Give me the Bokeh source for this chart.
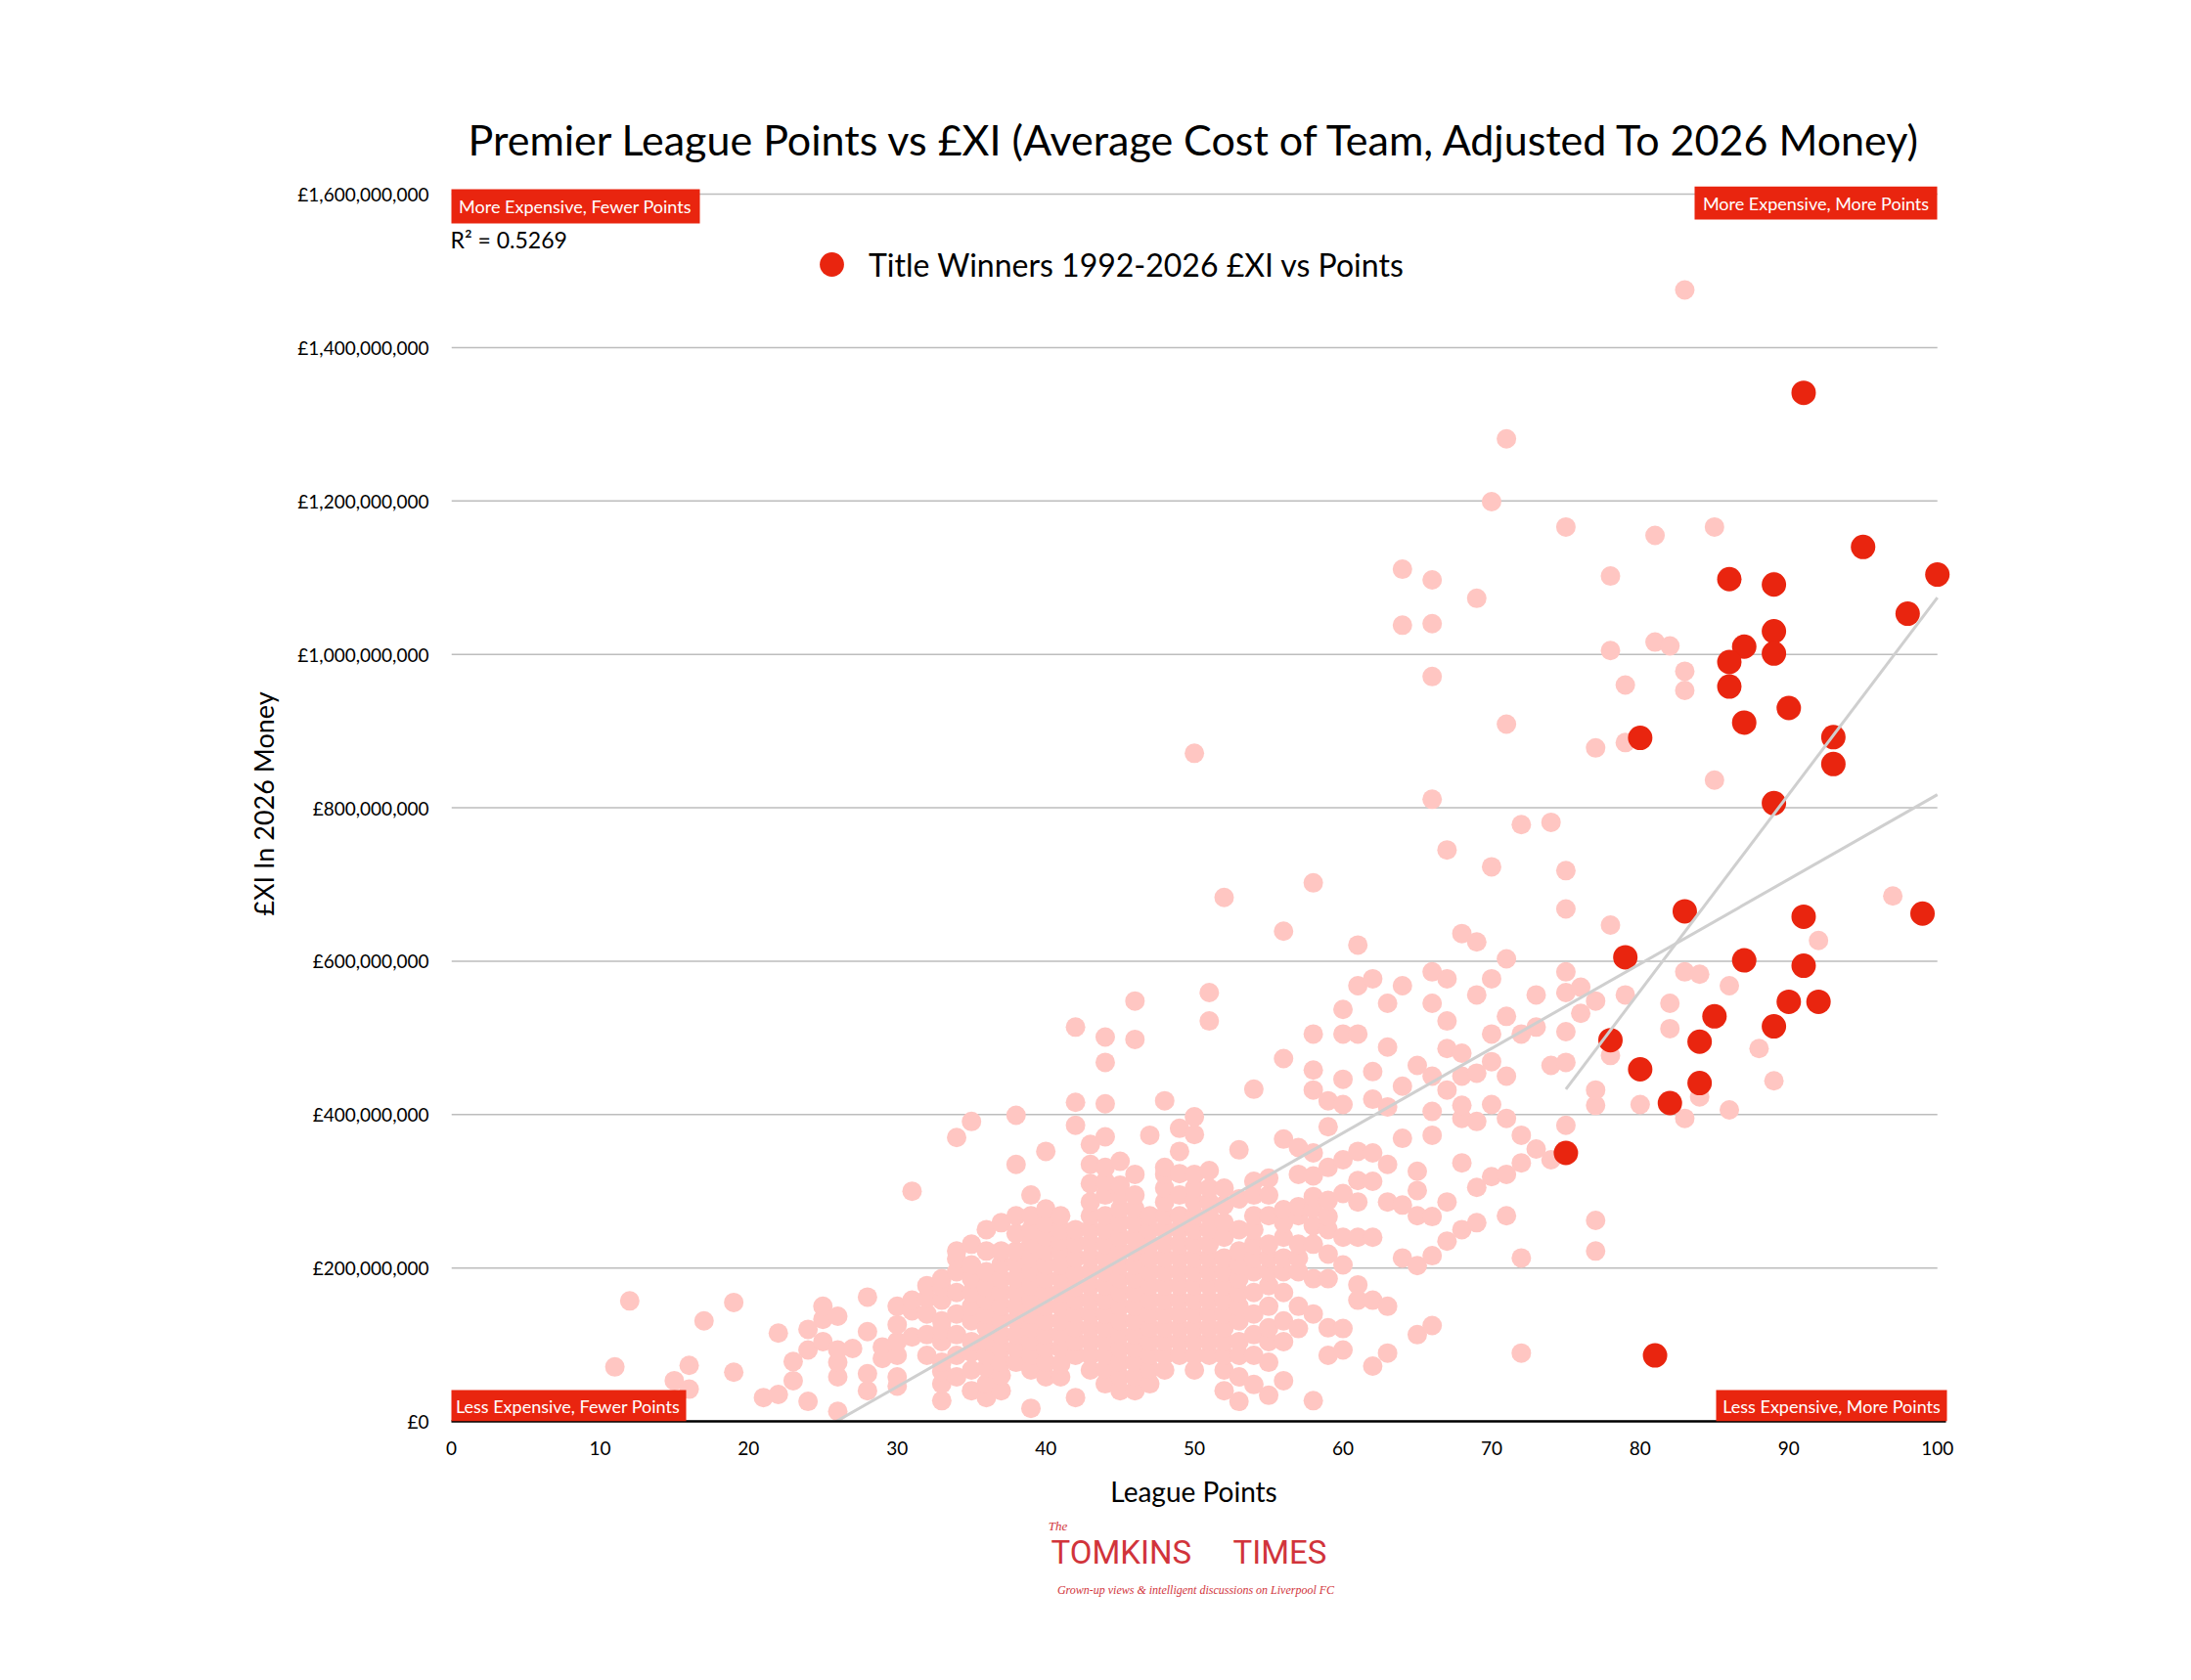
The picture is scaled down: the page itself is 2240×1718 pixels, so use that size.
from bokeh.plotting import figure
from bokeh.layouts import column
from bokeh.models import (ColumnDataSource, FixedTicker, CustomJSTickFormatter, Label,
                          Legend, LegendItem, Range1d, BoxAnnotation)
from bokeh.embed import file_html
from bokeh.resources import INLINE

# ---------------- data (league points, £XI in £ millions, 2026 money) ----------------
other_points = [
    11, 12, 15, 16, 16, 17, 19, 19, 21, 22, 22, 23, 23,
    24, 24, 24, 25, 25, 25, 26, 26, 26, 26, 26, 27,
    28, 28, 28, 28, 29, 29, 30, 30, 30, 30, 30, 30,
    31, 31, 31, 31, 32, 32, 32, 32, 32,
    33, 33, 33, 33, 33, 33, 33, 33, 33, 33,
    34, 34, 34, 34, 34, 34, 34, 34, 34,
    35, 35, 35, 35, 35, 35, 35, 35, 35, 35, 35,
    36, 36, 36, 36, 36, 36, 36, 36, 36, 36, 36, 36,
    37, 37, 37, 37, 37, 37, 37, 37, 37, 37, 37, 37,
    38, 38, 38, 38, 38, 38, 38, 38, 38, 38, 38, 38, 38,
    39, 39, 39, 39, 39, 39, 39, 39, 39, 39, 39, 39, 39, 39,
    40, 40, 40, 40, 40, 40, 40, 40, 40, 40, 40, 40, 40, 40,
    41, 41, 41, 41, 41, 41, 41, 41, 41, 41, 41, 41, 41,
    42, 42, 42, 42, 42, 42, 42, 42, 42, 42, 42, 42, 42, 42,
    43, 43, 43, 43, 43, 43, 43, 43, 43, 43, 43, 43, 43, 43, 43, 43,
    44, 44, 44, 44, 44, 44, 44, 44, 44, 44, 44, 44, 44, 44, 44, 44, 44, 44, 44, 44,
    45, 45, 45, 45, 45, 45, 45, 45, 45, 45, 45, 45, 45, 45, 45, 45, 45,
    46, 46, 46, 46, 46, 46, 46, 46, 46, 46, 46, 46, 46, 46, 46, 46, 46, 46,
    47, 47, 47, 47, 47, 47, 47, 47, 47, 47, 47, 47, 47, 47,
    48, 48, 48, 48, 48, 48, 48, 48, 48, 48, 48, 48, 48, 48, 48, 48, 48,
    49, 49, 49, 49, 49, 49, 49, 49, 49, 49, 49, 49, 49, 49, 49,
    50, 50, 50, 50, 50, 50, 50, 50, 50, 50, 50, 50, 50, 50, 50, 50, 50, 50,
    51, 51, 51, 51, 51, 51, 51, 51, 51, 51, 51, 51, 51, 51, 51, 51,
    52, 52, 52, 52, 52, 52, 52, 52, 52, 52, 52, 52, 52, 52, 52,
    53, 53, 53, 53, 53, 53, 53, 53, 53, 53, 53, 53, 53,
    54, 54, 54, 54, 54, 54, 54, 54, 54, 54, 54, 54, 54,
    55, 55, 55, 55, 55, 55, 55, 55, 55, 55, 55, 55,
    56, 56, 56, 56, 56, 56, 56, 56, 56, 56, 56, 56,
    57, 57, 57, 57, 57, 57, 57, 57, 57,
    58, 58, 58, 58, 58, 58, 58, 58, 58, 58, 58, 58, 58,
    59, 59, 59, 59, 59, 59, 59, 59, 59, 59,
    60, 60, 60, 60, 60, 60, 60, 60, 60, 60,
    61, 61, 61, 61, 61, 61, 61, 61, 61,
    62, 62, 62, 62, 62, 62, 62, 62,
    63, 63, 63, 63, 63, 63, 63,
    64, 64, 64, 64, 64, 64, 64,
    65, 65, 65, 65, 65, 65,
    66, 66, 66, 66, 66, 66, 66, 66, 66, 66, 66, 66,
    67, 67, 67, 67, 67, 67, 67,
    68, 68, 68, 68, 68, 68, 68,
    69, 69, 69, 69, 69, 69, 69,
    70, 70, 70, 70, 70, 70, 70,
    71, 71, 71, 71, 71, 71, 71, 71,
    72, 72, 72, 72, 72, 72,
    73, 73, 73, 74, 74, 74,
    75, 75, 75, 75, 75, 75, 75, 75,
    76, 76, 77, 77, 77, 77, 77, 77,
    78, 78, 78, 78, 79, 79, 79, 80,
    81, 81, 82, 82, 82, 83, 83, 83, 83, 83,
    84, 84, 85, 85, 86, 86, 88, 89, 89, 92, 97,
]
other_cost = [
    71, 157, 53, 73, 42, 131, 64, 155, 31, 35, 115, 78, 53,
    26, 93, 120, 104, 133, 150, 13, 58, 77, 93, 137, 95,
    40, 62, 117, 162, 82, 97, 46, 58, 86, 104, 126, 150,
    110, 144, 158, 300, 86, 113, 140, 160, 177,
    27, 49, 65, 77, 104, 120, 131, 158, 175, 186,
    58, 86, 113, 140, 168, 195, 212, 222, 370,
    40, 67, 90, 104, 131, 150, 168, 186, 204, 231, 391,
    31, 49, 70, 86, 105, 122, 140, 158, 175, 195, 222, 250,
    40, 60, 77, 95, 113, 132, 150, 168, 186, 205, 222, 259,
    77, 95, 113, 132, 150, 168, 186, 205, 222, 245, 268, 335, 399,
    17, 67, 86, 104, 122, 140, 158, 177, 195, 213, 232, 250, 268, 295,
    58, 77, 95, 113, 131, 150, 168, 186, 204, 222, 240, 258, 277, 352,
    58, 75, 95, 113, 131, 150, 168, 186, 204, 220, 236, 250, 268,
    31, 86, 104, 122, 140, 158, 175, 193, 213, 232, 250, 386, 416, 514,
    67, 86, 104, 122, 140, 158, 177, 195, 213, 232, 250, 268, 286, 310, 335, 361,
    49, 68, 86, 104, 122, 140, 158, 177, 195, 213, 231, 250, 268, 295, 313, 331, 371, 414, 468, 501,
    40, 58, 77, 95, 113, 131, 150, 168, 186, 204, 222, 240, 259, 277, 295, 308, 339,
    40, 58, 77, 95, 113, 131, 150, 168, 186, 204, 222, 240, 259, 277, 295, 322, 498, 548,
    49, 68, 86, 104, 122, 140, 158, 177, 195, 213, 231, 250, 268, 373,
    67, 86, 104, 122, 140, 158, 177, 195, 213, 232, 250, 268, 286, 304, 322, 331, 418,
    86, 104, 122, 140, 158, 177, 195, 213, 231, 250, 268, 295, 323, 352, 382,
    67, 86, 104, 122, 140, 158, 177, 195, 213, 232, 250, 268, 286, 304, 322, 374, 397, 871,
    86, 104, 122, 140, 158, 177, 195, 213, 231, 250, 268, 286, 304, 327, 522, 559,
    40, 67, 86, 104, 122, 140, 158, 177, 195, 213, 240, 259, 282, 304, 683,
    26, 58, 86, 104, 131, 150, 168, 186, 204, 222, 250, 290, 354,
    48, 86, 113, 140, 168, 195, 213, 231, 250, 268, 295, 313, 433,
    34, 77, 104, 122, 150, 177, 195, 213, 231, 268, 295, 317,
    53, 104, 131, 168, 195, 213, 240, 259, 276, 368, 473, 639,
    121, 150, 195, 213, 231, 268, 280, 322, 357,
    27, 140, 186, 231, 255, 277, 293, 320, 350, 432, 458, 505, 702,
    86, 122, 186, 218, 250, 267, 288, 331, 384, 418,
    93, 121, 204, 240, 297, 341, 413, 446, 505, 537,
    158, 178, 240, 286, 314, 352, 505, 568, 621,
    72, 158, 240, 313, 350, 420, 456, 577,
    89, 150, 286, 335, 410, 488, 545,
    213, 282, 369, 437, 568, 1038, 1111,
    113, 203, 268, 301, 326, 464,
    125, 216, 267, 373, 404, 450, 545, 586, 811, 971, 1040, 1097,
    235, 286, 432, 486, 522, 577, 745,
    250, 337, 395, 412, 450, 480, 636,
    259, 305, 391, 454, 556, 625, 1073,
    319, 413, 469, 505, 577, 723, 1199,
    268, 322, 395, 450, 528, 603, 909, 1281,
    89, 213, 337, 373, 505, 778,
    355, 514, 556, 341, 464, 781,
    386, 468, 508, 559, 586, 668, 718, 1166,
    532, 566, 222, 262, 412, 432, 548, 878,
    477, 647, 1005, 1102, 556, 885, 960, 413,
    1016, 1155, 512, 545, 1011, 395, 586, 953, 978, 1475,
    423, 583, 836, 1166, 406, 568, 486, 444, 1095, 627, 685,
]

winner_points = [91, 95, 100, 86, 89, 98, 89, 87, 86, 89, 86, 87, 90, 80, 93, 93, 89,
                 83, 91, 99, 79, 87, 91, 85, 90, 92, 89, 78, 84, 80, 84, 82, 75, 81]
winner_cost = [1341, 1140, 1104, 1098, 1091, 1053, 1030, 1010, 990, 1001, 958, 911, 930, 891, 892, 857, 806,
               665, 658, 662, 605, 601, 594, 528, 547, 547, 515, 497, 495, 459, 441, 415, 350, 86]

# trend lines (end points)
trend_all_points = [25.9, 100]
trend_all_cost = [0, 817]
trend_win_points = [75, 100]
trend_win_cost = [433, 1074]

x_ticks = [0, 10, 20, 30, 40, 50, 60, 70, 80, 90, 100]
y_ticks = [0, 200, 400, 600, 800, 1000, 1200, 1400, 1600]

assert len(other_points) == len(other_cost)
assert len(winner_points) == len(winner_cost)

# ---------------- style / layout constants ----------------
FONT = "Lato"
PINK = "#FFC6C2"
RED = "#E9250F"
GRID = "#BDBDBD"
TREND = "#CFCFCF"
LOGO = "#D1343B"
W = 2224
FR_LEFT, FR_RIGHT, FR_TOP, FR_BOTTOM = 461, 2003, 190, 1453   # frame edges on the page
X_MAX, Y_MAX = 101.5, 1610.2
PXX = (FR_RIGHT - FR_LEFT) / X_MAX
PXY = (FR_BOTTOM - FR_TOP) / Y_MAX

def to_x(px):
    return (px - FR_LEFT) / PXX

def to_y(py):
    return (FR_BOTTOM - py) / PXY

p = figure(width=W, height=1500, output_backend="svg", toolbar_location=None,
           x_range=Range1d(0, X_MAX), y_range=Range1d(0, Y_MAX),
           min_border_left=FR_LEFT, min_border_right=W - FR_RIGHT, min_border_top=FR_TOP,
           min_border_bottom=1500 - FR_BOTTOM,
           background_fill_color="white", border_fill_color="white")
p.outline_line_color = None
p.xgrid.grid_line_color = None
p.ygrid.grid_line_color = None

p.title.text = "Premier League Points vs £XI (Average Cost of Team, Adjusted To 2026 Money)"
p.title.text_font = FONT
p.title.text_font_size = "43px"
p.title.text_font_style = "normal"
p.title.align = "left"
p.title.offset = 17
p.title.standoff = 46
p.title.text_color = "black"

# grid lines drawn from 0 to 100 points only
p.segment(x0=[x_ticks[0]] * len(y_ticks), x1=[x_ticks[-1]] * len(y_ticks), y0=y_ticks, y1=y_ticks,
          line_color=GRID, line_width=1.5)

others = ColumnDataSource(dict(x=other_points, y=other_cost))
winners = ColumnDataSource(dict(x=winner_points, y=winner_cost))
p.scatter("x", "y", source=others, size=20, fill_color=PINK, line_color=None)
r_win = p.scatter("x", "y", source=winners, size=25, fill_color=RED, line_color=None)

p.line(trend_all_points, trend_all_cost, line_color=TREND, line_width=3)
p.line(trend_win_points, trend_win_cost, line_color=TREND, line_width=3)

# axes
p.xaxis.ticker = FixedTicker(ticks=x_ticks)
p.yaxis.ticker = FixedTicker(ticks=y_ticks)
p.xaxis.bounds = (0, 100.6)
p.yaxis.formatter = CustomJSTickFormatter(code=r"""
const v = Math.round(tick * 1000000);
return '£' + v.toString().replace(/\B(?=(\d{3})+(?!\d))/g, ',');
""")
for ax in (p.xaxis[0], p.yaxis[0]):
    ax.major_tick_line_color = None
    ax.minor_tick_line_color = None
    ax.major_label_text_font = FONT
    ax.major_label_text_font_size = "19px"
    ax.major_label_text_color = "black"
    ax.axis_label_text_font = FONT
    ax.axis_label_text_font_style = "normal"
    ax.axis_label_text_color = "black"
p.yaxis.axis_line_color = None
p.yaxis.major_label_standoff = 17
p.yaxis.axis_label = "£XI In 2026 Money"
p.yaxis.axis_label_text_font_size = "27px"
p.yaxis.axis_label_standoff = 15
p.xaxis.axis_line_color = "black"
p.xaxis.axis_line_width = 2.5
p.xaxis.major_label_standoff = 14

# legend
legend = Legend(items=[LegendItem(label="Title Winners 1992-2026 £XI vs Points", renderers=[r_win])],
                location=(358, 1152), orientation="vertical",
                glyph_width=62, glyph_height=62, label_height=62, label_standoff=7,
                label_text_font=FONT, label_text_font_size="32px", label_text_color="black",
                padding=0, margin=0, spacing=0,
                border_line_color=None, background_fill_alpha=0)
p.add_layout(legend)

# quadrant boxes: (text, box left/right/top/bottom on the page)
quadrants = [
    ("More Expensive, Fewer Points", 460, 715, 193, 228),
    ("More Expensive, More Points", 1732, 1980, 190, 224),
    ("Less Expensive, Fewer Points", 459, 701, 1421, 1453),
    ("Less Expensive, More Points", 1754, 1990, 1421, 1453),
]
for text, l, r, t, b in quadrants:
    p.add_layout(BoxAnnotation(left=to_x(l), right=to_x(r), top=to_y(t), bottom=to_y(b),
                               fill_color=RED, fill_alpha=1.0, line_color=None))
    p.add_layout(Label(x=to_x((l + r) / 2), y=to_y((t + b) / 2), text=text,
                       text_align="center", text_baseline="middle",
                       text_font=FONT, text_font_size="18px", text_color="white"))

p.add_layout(Label(x=to_x(460), y=to_y(244), text="R² = 0.5269", text_align="left",
                   text_baseline="middle", text_font=FONT, text_font_size="23px", text_color="black"))

# ---------------- footer: x-axis title and masthead (page x coordinates) ----------------
q = figure(width=W, height=200, output_backend="svg", toolbar_location=None,
           x_range=Range1d(FR_LEFT, FR_RIGHT), y_range=Range1d(0, 200),
           x_axis_type=None, y_axis_type=None,
           min_border_left=FR_LEFT, min_border_right=W - FR_RIGHT, min_border_top=0, min_border_bottom=0,
           background_fill_color="white", border_fill_color="white")
q.outline_line_color = None
q.xgrid.grid_line_color = None
q.ygrid.grid_line_color = None

def footer_text(text, x, y, size, font=FONT, style="normal", color="black", align="center"):
    q.add_layout(Label(x=x, y=y, text=text, text_align=align, text_baseline="middle",
                       text_font=font, text_font_style=style, text_font_size=size, text_color=color))

footer_text("League Points", 1220, 176, "28px")
footer_text("The", 1081, 140, "13px", font="Liberation Serif", style="italic", color=LOGO)
footer_text("TOMKINS", 1074, 113, "33px", font="Roboto", color=LOGO, align="left")
footer_text("TIMES", 1260, 113, "33px", font="Roboto", color=LOGO, align="left")
footer_text("Grown-up views & intelligent discussions on Liverpool FC", 1222, 75, "12px",
            font="Liberation Serif", style="italic", color=LOGO)

layout = column(p, q, spacing=0)
open("out.html", "w").write(file_html(layout, INLINE))
